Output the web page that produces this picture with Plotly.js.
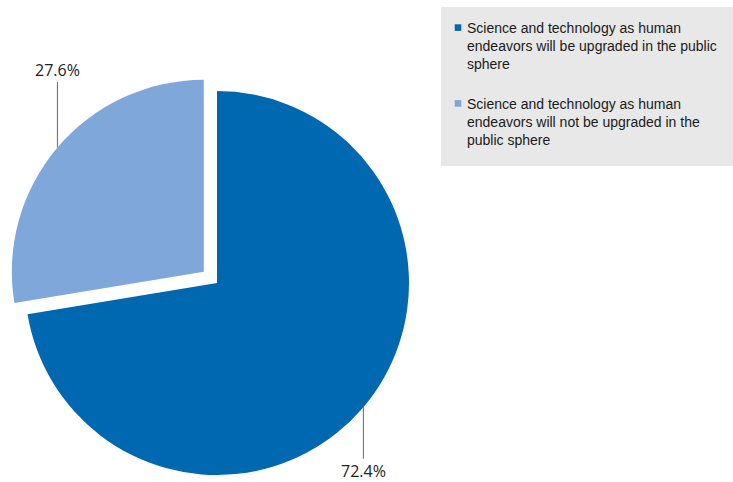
<!DOCTYPE html>
<html>
<head>
<meta charset="utf-8">
<script src="https://cdn.plot.ly/plotly-3.0.1.min.js"></script>
<style>
html,body{margin:0;padding:0;overflow:hidden;background:#fff;}
#chart{width:733px;height:500px;}
</style>
</head>
<body>
<div id="chart"></div>
<script>
// ---- data ----
var categories = [
  "Science and technology as human<br>endeavors will be upgraded in the public<br>sphere<br> ",
  "Science and technology as human<br>endeavors will not be upgraded in the<br>public sphere"
];
var values = [72.4, 27.6];
var colors = ["#0067B1", "#7FA7D9"];
var pulls = [0, 0.09];

// ---- geometry (pixels) ----
var W = 733, H = 500;
var CX = 217, CY = 283, R = 192, PULL = 0.09;
var side = 2 * R * (1 + PULL);
var domX = [(CX - side / 2) / W, (CX + side / 2) / W];
var domY = [1 - (CY + side / 2) / H, 1 - (CY - side / 2) / H];

var total = values.reduce(function (a, b) { return a + b; }, 0);
var labelOffsets = [[0, 64], [0, -78]];
var annotations = [];
var cum = 0;
for (var i = 0; i < values.length; i++) {
  var frac = values[i] / total;
  var mid = (cum + frac / 2) * 2 * Math.PI;
  cum += frac;
  var dx = Math.sin(mid), dy = -Math.cos(mid);
  var cx = CX + dx * pulls[i] * R, cy = CY + dy * pulls[i] * R;
  var px = cx + dx * R, py = cy + dy * R;
  annotations.push({
    xref: 'paper', yref: 'paper',
    x: px / W, y: 1 - py / H,
    text: values[i].toFixed(1) + '%',
    showarrow: true, arrowhead: 0, arrowwidth: 1, arrowcolor: '#666666',
    ax: labelOffsets[i][0], ay: labelOffsets[i][1], standoff: 0,
    font: {family: 'Open Sans, sans-serif', size: 16, color: '#222222'}
  });
}

var trace = {
  type: 'pie',
  labels: categories,
  values: values,
  sort: false,
  direction: 'clockwise',
  rotation: 0,
  pull: pulls,
  marker: {colors: colors, line: {width: 0}},
  textinfo: 'none',
  hoverinfo: 'label+percent',
  domain: {x: domX, y: domY}
};

var layout = {
  width: W, height: H,
  margin: {l: 0, r: 0, t: 0, b: 0},
  paper_bgcolor: '#ffffff',
  showlegend: true,
  legend: {
    x: 427 / W, y: 1 - 12 / H, xanchor: 'left', yanchor: 'top',
    bgcolor: 'rgba(0,0,0,0)', borderwidth: 0,
    valign: 'top', traceorder: 'normal',
    itemwidth: 30,
    font: {family: 'Liberation Sans, Arial, sans-serif', size: 14, color: '#1a1a1a'}
  },
  shapes: [{
    type: 'rect', xref: 'paper', yref: 'paper',
    x0: 441 / W, x1: 1, y0: 1 - 166 / H, y1: 1 - 7 / H,
    fillcolor: '#E8E8E8', line: {width: 0}, layer: 'below'
  }],
  annotations: annotations
};

Plotly.newPlot('chart', [trace], layout, {displayModeBar: false, staticPlot: true}).then(function (gd) {
  // smaller legend swatches placed just before the text
  var paths = gd.querySelectorAll('.legend .legendpie');
  paths.forEach(function (p) { p.setAttribute('transform', 'translate(31,0) scale(0.55)'); });
});
</script>
</body>
</html>
